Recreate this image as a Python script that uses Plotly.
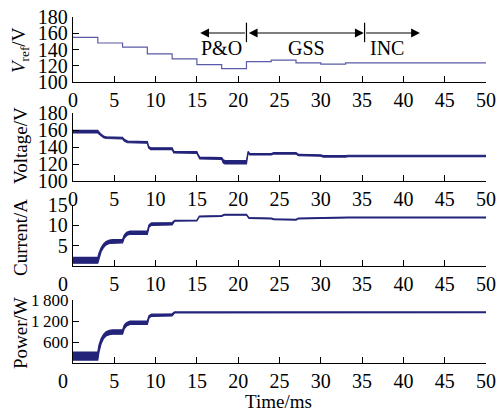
import plotly.graph_objects as go

# ---------------- data ----------------
ref_t = [0, 3, 6, 9, 12, 15, 18, 21, 24, 27, 30, 33, 50]
ref_v = [155, 148, 143, 134.5, 128.5, 121.5, 116.5, 125, 127, 123.5, 122, 123.5, 123.5]

volt_t = [0, 3.0, 3.3, 3.7, 4.0, 6.0, 6.2, 6.6, 9.0, 9.15, 9.4, 12.0, 12.2, 15.0, 15.15, 15.35,
          18.0, 18.2, 18.4, 21.0, 21.2, 21.4, 24.0, 24.3, 27.0, 27.3, 30.0, 30.3, 33.0, 33.3, 50]
volt_c = [158, 158, 155, 152, 151, 150.5, 148, 146, 145.5, 140, 138, 138, 134, 133.5, 130, 127,
          126.5, 123, 122, 122, 134, 131.5, 131.5, 132.5, 132.5, 130.5, 130, 129, 129, 129.5, 129.5]
volt_r = [1.5, 1.5, 1.0, 1.0, 1.0, 1.0, 1.0, 1.0, 1.0, 1.0, 1.0, 1.0, 1.0, 1.0, 1.0, 1.0,
          1.0, 2.0, 2.0, 2.0, 1.0, 0.8, 0.8, 0.8, 0.8, 0.8, 0.8, 0.8, 0.8, 0.8, 0.8]

cur_t = [0, 3.0, 3.15, 3.4, 3.7, 4.0, 4.4, 4.8, 6.0, 6.2, 6.5, 6.9, 9.0, 9.2, 9.5, 12.0, 12.3,
         15.0, 15.3, 18.0, 18.3, 21.0, 21.3, 24.0, 24.3, 27.0, 27.3, 30.0, 30.3, 33.0, 33.3, 50]
cur_c = [1.4, 1.4, 2.6, 4.0, 5.0, 5.6, 5.95, 6.1, 6.1, 7.2, 7.9, 8.2, 8.2, 9.8, 10.3, 10.4, 11.1,
         11.2, 12.2, 12.3, 12.6, 12.6, 11.8, 11.7, 11.5, 11.4, 11.7, 11.8, 11.9, 11.9, 11.9, 11.9]
cur_r = [0.7, 0.7, 0.6, 0.5, 0.45, 0.4, 0.4, 0.4, 0.4, 0.4, 0.4, 0.4, 0.4, 0.3, 0.3, 0.3, 0.1,
         0.1, 0.1, 0.1, 0.1, 0.1, 0.1, 0.1, 0.1, 0.1, 0.1, 0.1, 0.1, 0.1, 0.1, 0.1]

pow_t = [0, 3.0, 3.15, 3.4, 3.7, 4.0, 4.4, 4.8, 6.0, 6.2, 6.5, 6.9, 9.0, 9.2, 9.5, 12.0, 12.3,
         15, 21, 21.3, 50]
pow_c = [200, 200, 420, 620, 760, 830, 870, 885, 885, 1030, 1110, 1150, 1150, 1320, 1365, 1375,
         1445, 1450, 1455, 1450, 1450]
pow_r = [115, 115, 100, 70, 60, 60, 60, 60, 60, 55, 50, 50, 50, 35, 30, 30, 15, 10, 10, 10, 10]

x_ticks = [0, 5, 10, 15, 20, 25, 30, 35, 40, 45, 50]
v_ticks = [100, 120, 140, 160, 180]
i_ticks = [5, 10, 15]
p_ticks = [600, 1200, 1800]
p_tick_text = ["600", "1\u2009200", "1\u2009800"]

phase_bounds = [21, 35.3]          # vertical bars
phase_names = ["P&O", "GSS", "INC"]
phase_text_t = [18.0, 28.3, 38.0]
po_arrow_end = 15.4
inc_arrow_end = 42

# ---------------- styling ----------------
W, H = 498, 414
FONT = "Liberation Serif"
DARK = "#23237a"
REF = "#5a5aa8"

def px_x(p):
    return p / W

def px_y(p):
    return 1 - p / H

x_dom = [px_x(73), px_x(486)]
y_doms = [
    [px_y(82), px_y(17)],
    [px_y(181), px_y(113)],
    [px_y(266), px_y(205)],
    [px_y(363), px_y(300)],
]

fig = go.Figure()

def band(t, c, r, xa, ya):
    hi = [ci + ri for ci, ri in zip(c, r)]
    lo = [ci - ri for ci, ri in zip(c, r)]
    fig.add_trace(go.Scatter(
        x=list(t) + list(t)[::-1], y=hi + lo[::-1],
        fill="toself", fillcolor=DARK, mode="lines",
        line=dict(color=DARK, width=1.2), xaxis=xa, yaxis=ya,
        showlegend=False, hoverinfo="skip"))

fig.add_trace(go.Scatter(x=ref_t, y=ref_v, mode="lines", line_shape="hv",
                         line=dict(color=REF, width=1.2), xaxis="x", yaxis="y",
                         showlegend=False))
band(volt_t, volt_c, volt_r, "x2", "y2")
band(cur_t, cur_c, cur_r, "x3", "y3")
band(pow_t, pow_c, pow_r, "x4", "y4")

axis_common = dict(showline=True, linecolor="black", linewidth=1.3, ticks="inside",
                   ticklen=6, tickwidth=1.3, tickcolor="black", showgrid=False,
                   zeroline=False, automargin=False,
                   tickfont=dict(family=FONT, size=20, color="black"))

zero_shift = "0\u00a0\u00a0\u00a0\u00a0"
layout = dict(template="none", width=W, height=H, margin=dict(l=0, r=0, t=0, b=0, pad=0),
              paper_bgcolor="white", plot_bgcolor="white", showlegend=False,
              font=dict(family=FONT, size=20, color="black"))

for i in range(4):
    sfx = "" if i == 0 else str(i + 1)
    xt = [str(v) for v in x_ticks]
    if i >= 2:
        xt[0] = zero_shift
    layout["xaxis" + sfx] = dict(axis_common, domain=x_dom, range=[0, 50],
                                 anchor="y" + sfx, tickvals=x_ticks, ticktext=xt)

layout["yaxis"] = dict(axis_common, domain=y_doms[0], range=[100, 180], anchor="x",
                       tickvals=v_ticks)
layout["yaxis2"] = dict(axis_common, domain=y_doms[1], range=[100, 180], anchor="x2",
                        tickvals=v_ticks)
layout["yaxis3"] = dict(axis_common, domain=y_doms[2], range=[0, 15], anchor="x3",
                        tickvals=i_ticks)
layout["yaxis4"] = dict(axis_common, domain=y_doms[3], range=[0, 1800], anchor="x4",
                        tickvals=p_ticks, ticktext=p_tick_text,
                        tickfont=dict(family=FONT, size=17, color="black"))

fig.update_layout(**layout)

# y-axis titles
titles = ["<i>V</i><sub>ref</sub>/V", "Voltage/V", "Current/A", "Power/W"]
title_y = [50, 146, 238, 333]
for txt, yy in zip(titles, title_y):
    fig.add_annotation(text=txt, xref="paper", yref="paper", x=px_x(20), y=px_y(yy),
                       xanchor="center", yanchor="middle", textangle=-90, showarrow=False,
                       font=dict(family=FONT, size=19, color="black"))

fig.add_annotation(text="Time/ms", xref="paper", yref="paper", x=px_x(278), y=0,
                   xanchor="center", yanchor="bottom", showarrow=False,
                   font=dict(family=FONT, size=19, color="black"))

# phase markers
arrow_y = 160.3
for b in phase_bounds:
    fig.add_shape(type="line", xref="x", yref="y", x0=b, x1=b, y0=149, y1=173,
                  line=dict(color="black", width=1.2))
arr = dict(xref="x", yref="y", axref="x", ayref="y", showarrow=True, arrowhead=2,
           arrowsize=1.6, arrowwidth=1.1, arrowcolor="black", text="")
fig.add_annotation(arr, x=po_arrow_end, y=arrow_y, ax=phase_bounds[0], ay=arrow_y)
fig.add_annotation(arr, x=phase_bounds[1] - 0.1, y=arrow_y, ax=phase_bounds[0] + 0.1, ay=arrow_y,
                   arrowside="end+start", startarrowhead=2, startarrowsize=1.6)
fig.add_annotation(arr, x=inc_arrow_end, y=arrow_y, ax=phase_bounds[1], ay=arrow_y)
for name, tt in zip(phase_names, phase_text_t):
    fig.add_annotation(text=name, xref="x", yref="y", x=tt, y=141.5, showarrow=False,
                       xanchor="center", yanchor="middle",
                       font=dict(family=FONT, size=20, color="black"))

fig.write_html("out.html")
